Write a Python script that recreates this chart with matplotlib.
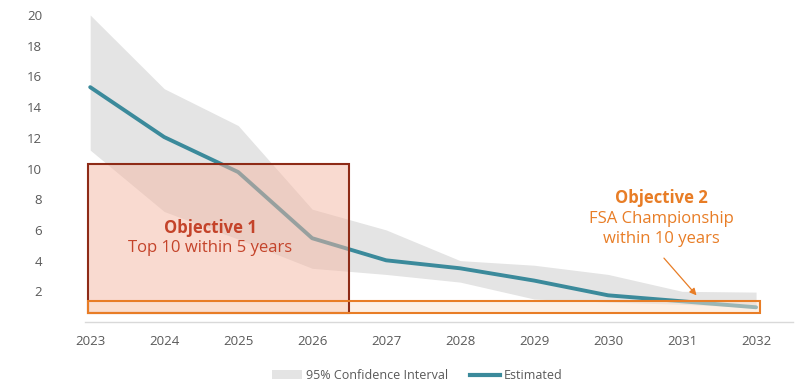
import numpy as np
import matplotlib.pyplot as plt
from matplotlib.patches import Rectangle, Patch
from matplotlib.lines import Line2D

plt.rcParams['font.family'] = ['Open Sans', 'DejaVu Sans']

years = [2023, 2024, 2025, 2026, 2027, 2028, 2029, 2030, 2031, 2032]
estimated = [15.3, 12.05, 9.77, 5.46, 4.02, 3.5, 2.7, 1.74, 1.35, 0.96]
ci_upper = [20.0, 15.2, 12.8, 7.35, 6.0, 4.0, 3.7, 3.1, 2.0, 1.95]
ci_lower = [11.2, 7.2, 5.4, 3.5, 3.1, 2.6, 1.5, 1.3, 1.15, 0.95]
y_ticks = [2, 4, 6, 8, 10, 12, 14, 16, 18, 20]

teal = '#3b8a9b'
band = '#e4e4e4'
dark_red = '#8e2b17'
red_text = '#c4432a'
orange = '#e87d26'

fig = plt.figure(figsize=(8.12, 3.82), dpi=100)
ax = fig.add_axes([0.1047, 0.157, 0.872, 0.8037])

ax.fill_between(years, ci_lower, ci_upper, color=band, lw=0, zorder=1)
ax.plot(years, estimated, color=teal, lw=2.8, solid_capstyle='round', zorder=2)

# objective boxes drawn over the data
ax.add_patch(Rectangle((2022.97, 0.6), 3.53, 9.67, facecolor='#f4b7a3', alpha=0.5,
                       edgecolor='none', zorder=3))
ax.add_patch(Rectangle((2022.97, 0.6), 3.53, 9.67, facecolor='none',
                       edgecolor=dark_red, lw=1.5, zorder=4))
ax.add_patch(Rectangle((2022.97, 0.6), 9.08, 0.75, facecolor='#fbe3cf', alpha=0.5,
                       edgecolor='none', zorder=3))
ax.add_patch(Rectangle((2022.97, 0.6), 9.08, 0.75, facecolor='none',
                       edgecolor=orange, lw=1.5, zorder=5))

ax.text(2024.62, 6.1, 'Objective 1', color=red_text, fontsize=12, fontweight='bold',
        ha='center', va='center', zorder=6)
ax.text(2024.62, 4.85, 'Top 10 within 5 years', color=red_text, fontsize=12,
        ha='center', va='center', zorder=6)

ax.text(2030.72, 8.05, 'Objective 2', color=orange, fontsize=12, fontweight='bold',
        ha='center', va='center', zorder=6)
ax.text(2030.72, 6.7, 'FSA Championship', color=orange, fontsize=12,
        ha='center', va='center', zorder=6)
ax.text(2030.72, 5.4, 'within 10 years', color=orange, fontsize=12,
        ha='center', va='center', zorder=6)
ax.annotate('', xy=(2031.22, 1.6), xytext=(2030.73, 4.3),
            arrowprops=dict(arrowstyle='-|>', color=orange, lw=0.9, mutation_scale=10),
            zorder=6)

ax.set_xlim(2022.93, 2032.5)
ax.set_ylim(0, 20)
ax.set_xticks(years)
ax.set_yticks(y_ticks)
ax.tick_params(axis='both', length=0, labelsize=9.5, labelcolor='#595959')
ax.tick_params(axis='y', pad=31)
ax.tick_params(axis='x', pad=9)
for s in ['top', 'right', 'left']:
    ax.spines[s].set_visible(False)
ax.spines['bottom'].set_color('#d9d9d9')
ax.spines['bottom'].set_linewidth(1)

handles = [Patch(facecolor=band, edgecolor='none', label='95% Confidence Interval'),
           Line2D([0], [0], color=teal, lw=3, label='Estimated')]
fig.legend(handles=handles, loc='lower center', bbox_to_anchor=(0.514, -0.03), ncol=2,
           frameon=False, fontsize=9, handlelength=2.4, handletextpad=0.3,
           columnspacing=1.8, labelcolor='#595959')

fig.savefig('out.png', dpi=100)
